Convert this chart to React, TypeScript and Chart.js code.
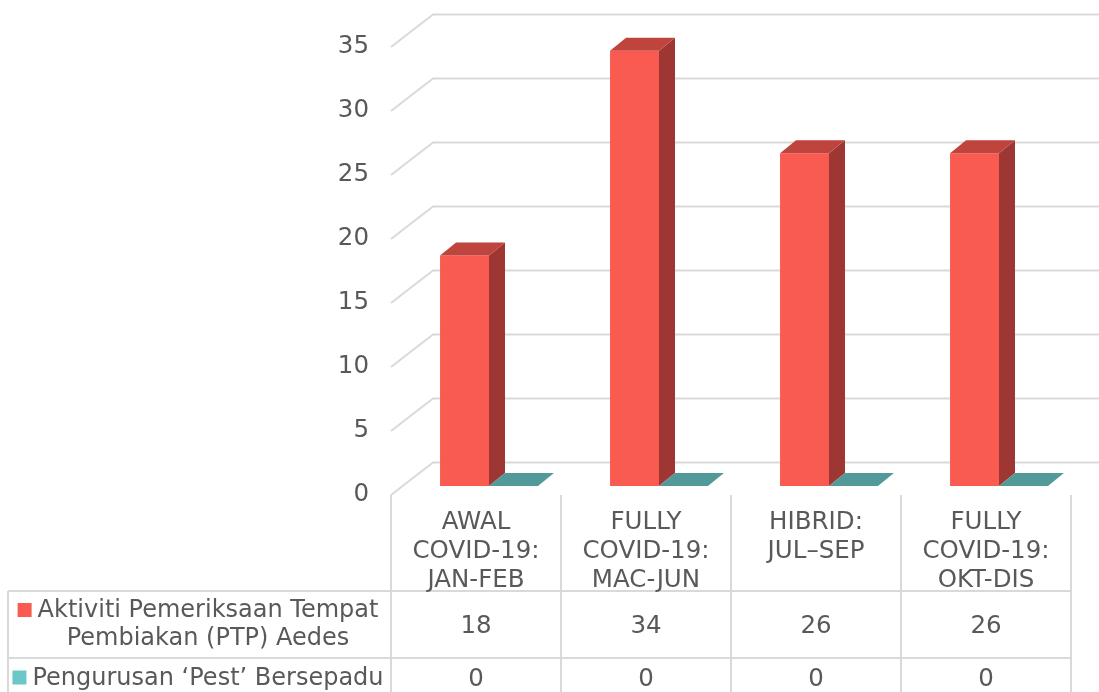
import React, { useEffect, useRef } from "react";
import { Chart, registerables } from "chart.js";

Chart.register(...registerables);

const categories: string[][] = [
  ["AWAL", "COVID-19:", "JAN-FEB"],
  ["FULLY", "COVID-19:", "MAC-JUN"],
  ["HIBRID:", "JUL–SEP"],
  ["FULLY", "COVID-19:", "OKT-DIS"],
];
const seriesNames: string[][] = [
  ["Aktiviti Pemeriksaan Tempat", "Pembiakan (PTP) Aedes"],
  ["Pengurusan ‘Pest’ Bersepadu"],
];
const ptpValues = [18, 34, 26, 26];
const pestValues = [0, 0, 0, 0];
const yMin = 0;
const yMax = 35;
const yStep = 5;

const FONT = '"DejaVu Sans", Verdana, sans-serif';
const TEXT = "#595959";
const GRID = "#D9D9D9";
const FRONT_COLORS = ["#F95B51", "#6CC8C8"];
const SIDE_COLORS = ["#9E3633", "#3F7B7A"];
const TOP_COLORS = ["#C0443E", "#529A9A"];
const FRONT_DX = -13, FRONT_DY = 9;
const BACK_DX = 29, BACK_DY = -23.5;
const BAR_DX = 16, BAR_DY = 13;
const FS = 24.5;
const LEGEND_FS = 24;

const threeDPlugin = {
  id: "threeD",
  beforeDatasetsDraw(chart: any) {
    const ctx = chart.ctx;
    const y = chart.scales.y;
    const area = chart.chartArea;
    ctx.save();
    ctx.strokeStyle = GRID;
    ctx.lineWidth = 2;
    y.ticks.forEach((t: any) => {
      const py = y.getPixelForValue(t.value);
      ctx.beginPath();
      ctx.moveTo(area.left + FRONT_DX, py + FRONT_DY);
      ctx.lineTo(area.left + BACK_DX, py + BACK_DY);
      ctx.lineTo(chart.width, py + BACK_DY);
      ctx.stroke();
    });
    ctx.restore();
  },
  afterDatasetsDraw(chart: any) {
    const ctx = chart.ctx;
    ctx.save();
    chart.data.datasets.forEach((_ds: any, i: number) => {
      const meta = chart.getDatasetMeta(i);
      meta.data.forEach((bar: any) => {
        const { x, y, base, width } = bar.getProps(["x", "y", "base", "width"], true);
        const l = x - width / 2;
        const r = x + width / 2;
        ctx.fillStyle = SIDE_COLORS[i];
        ctx.beginPath();
        ctx.moveTo(r, y);
        ctx.lineTo(r + BAR_DX, y - BAR_DY);
        ctx.lineTo(r + BAR_DX, base - BAR_DY);
        ctx.lineTo(r, base);
        ctx.closePath();
        ctx.fill();
        ctx.fillStyle = TOP_COLORS[i];
        ctx.beginPath();
        ctx.moveTo(l, y);
        ctx.lineTo(l + BAR_DX, y - BAR_DY);
        ctx.lineTo(r + BAR_DX, y - BAR_DY);
        ctx.lineTo(r, y);
        ctx.closePath();
        ctx.fill();
      });
    });
    ctx.restore();
  },
  afterDraw(chart: any) {
    const ctx = chart.ctx;
    const xs = chart.scales.x;
    const n = categories.length;
    const colW = xs.getPixelForValue(1) - xs.getPixelForValue(0);
    const centers = categories.map((_c, i) => xs.getPixelForValue(i) + FRONT_DX);
    const bounds = [centers[0] - colW / 2, ...centers.map((c) => c + colW / 2)];
    const tableTop = 495;
    const row1Top = 591;
    const row2Top = 658;
    const bottom = chart.height;
    const leftEdge = 8;
    ctx.save();
    ctx.strokeStyle = GRID;
    ctx.lineWidth = 2;
    bounds.forEach((bx) => {
      ctx.beginPath();
      ctx.moveTo(bx, tableTop);
      ctx.lineTo(bx, bottom);
      ctx.stroke();
    });
    ctx.beginPath();
    ctx.moveTo(leftEdge, row1Top);
    ctx.lineTo(leftEdge, bottom);
    ctx.stroke();
    [row1Top, row2Top].forEach((ry) => {
      ctx.beginPath();
      ctx.moveTo(leftEdge, ry);
      ctx.lineTo(bounds[n], ry);
      ctx.stroke();
    });

    ctx.fillStyle = TEXT;
    ctx.font = `${FS}px ${FONT}`;
    ctx.textAlign = "center";
    ctx.textBaseline = "alphabetic";
    const catBase = [528.5, 557.5, 586.5];
    categories.forEach((lines, i) => {
      lines.forEach((ln, j) => ctx.fillText(ln, centers[i], catBase[j]));
    });
    ptpValues.forEach((v, i) => ctx.fillText(String(v), centers[i], 633));
    pestValues.forEach((v, i) => ctx.fillText(String(v), centers[i], 685.5));

    ctx.font = `${LEGEND_FS}px ${FONT}`;
    const legendCenter = 208;
    const rowBases = [[617, 645], [684.5]];
    seriesNames.forEach((lines, s) => {
      lines.forEach((ln, j) => {
        ctx.fillStyle = TEXT;
        ctx.textAlign = "center";
        ctx.fillText(ln, legendCenter, rowBases[s][j]);
        if (j === 0) {
          const w = ctx.measureText(ln).width;
          const start = legendCenter - w / 2;
          ctx.fillStyle = FRONT_COLORS[s];
          ctx.fillRect(start - 20, rowBases[s][j] - 14, 14, 14);
        }
      });
    });
    ctx.restore();
  },
};

export default function App() {
  const ref = useRef<HTMLCanvasElement | null>(null);
  useEffect(() => {
    if (!ref.current) return;
    const chart = new Chart(ref.current, {
      type: "bar",
      data: {
        labels: categories.map((c) => c.join(" ")),
        datasets: [
          {
            label: seriesNames[0].join(" "),
            data: ptpValues,
            backgroundColor: FRONT_COLORS[0],
            borderWidth: 0,
            categoryPercentage: 0.576,
            barPercentage: 1,
          },
          {
            label: seriesNames[1].join(" "),
            data: pestValues,
            backgroundColor: FRONT_COLORS[1],
            borderWidth: 0,
            categoryPercentage: 0.576,
            barPercentage: 1,
          },
        ],
      },
      options: {
        animation: false,
        responsive: false,
        layout: { padding: { top: 38, right: 15, bottom: 206, left: 0 } },
        plugins: { legend: { display: false }, tooltip: { enabled: false } },
        scales: {
          x: { display: false },
          y: {
            min: yMin,
            max: yMax,
            grid: { display: false },
            border: { display: false },
            ticks: {
              stepSize: yStep,
              color: TEXT,
              padding: 27,
              labelOffset: 9,
              font: { family: FONT, size: FS },
            },
            afterFit: (scale: any) => {
              scale.width = 404;
              scale.paddingTop = 0;
              scale.paddingBottom = 0;
            },
          },
        },
      },
      plugins: [threeDPlugin],
    });
    return () => chart.destroy();
  }, []);
  return (
    <div style={{ position: "fixed", left: 0, top: 0, width: 1099, height: 692, background: "#fff" }}>
      <canvas ref={ref} width={1099} height={692} />
    </div>
  );
}
